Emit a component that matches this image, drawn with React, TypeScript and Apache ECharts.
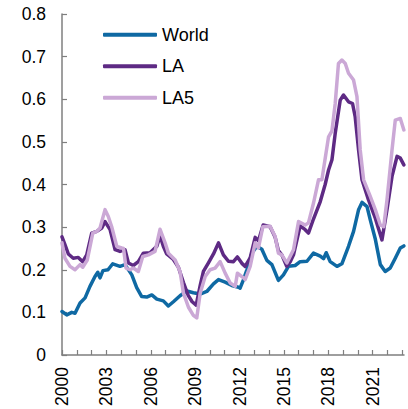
import React, { useEffect, useRef } from "react";
import * as echarts from "echarts";

const worldYears = [2000.0, 2000.32, 2000.66, 2000.88, 2001.22, 2001.56, 2001.89, 2002.23, 2002.42, 2002.57, 2002.77, 2003.11, 2003.43, 2003.92, 2004.26, 2004.72, 2005.05, 2005.39, 2005.73, 2006.07, 2006.41, 2006.85, 2007.19, 2007.53, 2007.98, 2008.44, 2008.88, 2009.34, 2009.79, 2010.24, 2010.58, 2011.03, 2011.48, 2011.93, 2012.04, 2012.25, 2012.5, 2012.84, 2013.17, 2013.51, 2013.85, 2014.19, 2014.63, 2014.97, 2015.31, 2015.76, 2016.1, 2016.56, 2017.0, 2017.46, 2017.68, 2017.86, 2018.13, 2018.59, 2018.92, 2019.37, 2019.71, 2020.05, 2020.28, 2020.62, 2020.84, 2021.18, 2021.52, 2021.85, 2022.19, 2022.53, 2022.87, 2023.11];
const worldValues = [0.102, 0.094, 0.1, 0.098, 0.122, 0.134, 0.161, 0.184, 0.194, 0.181, 0.198, 0.2, 0.214, 0.208, 0.212, 0.188, 0.158, 0.137, 0.136, 0.141, 0.131, 0.127, 0.115, 0.125, 0.139, 0.15, 0.146, 0.143, 0.149, 0.167, 0.177, 0.171, 0.163, 0.159, 0.157, 0.175, 0.2, 0.239, 0.255, 0.248, 0.222, 0.212, 0.175, 0.188, 0.208, 0.21, 0.219, 0.22, 0.239, 0.232, 0.226, 0.24, 0.219, 0.208, 0.214, 0.255, 0.29, 0.341, 0.358, 0.348, 0.317, 0.272, 0.212, 0.196, 0.204, 0.227, 0.251, 0.256];

const laYears = [2000.0, 2000.2, 2000.43, 2000.76, 2001.1, 2001.4, 2001.67, 2002.01, 2002.35, 2002.69, 2002.91, 2003.25, 2003.59, 2003.92, 2004.26, 2004.49, 2004.82, 2005.16, 2005.5, 2005.95, 2006.41, 2006.63, 2006.85, 2007.08, 2007.53, 2007.87, 2008.21, 2008.53, 2008.8, 2009.07, 2009.34, 2009.56, 2009.9, 2010.24, 2010.58, 2010.91, 2011.25, 2011.59, 2011.86, 2012.16, 2012.38, 2012.72, 2013.06, 2013.28, 2013.6, 2014.07, 2014.41, 2014.63, 2014.86, 2015.19, 2015.43, 2015.65, 2016.1, 2016.44, 2016.66, 2017.0, 2017.46, 2017.79, 2018.02, 2018.25, 2018.47, 2018.81, 2019.03, 2019.37, 2019.64, 2019.82, 2020.05, 2020.28, 2020.72, 2021.18, 2021.63, 2021.97, 2022.31, 2022.65, 2022.87, 2023.11];
const laValues = [0.277, 0.259, 0.237, 0.227, 0.229, 0.219, 0.235, 0.286, 0.29, 0.298, 0.313, 0.294, 0.247, 0.243, 0.247, 0.216, 0.21, 0.219, 0.239, 0.24, 0.255, 0.28, 0.255, 0.237, 0.224, 0.206, 0.17, 0.14, 0.125, 0.117, 0.163, 0.196, 0.216, 0.237, 0.263, 0.235, 0.22, 0.219, 0.23, 0.215, 0.208, 0.228, 0.276, 0.268, 0.305, 0.301, 0.276, 0.245, 0.235, 0.208, 0.219, 0.235, 0.303, 0.294, 0.286, 0.319, 0.36, 0.4, 0.434, 0.458, 0.52, 0.598, 0.61, 0.594, 0.59, 0.559, 0.481, 0.411, 0.364, 0.321, 0.27, 0.341, 0.419, 0.466, 0.462, 0.446];

const la5Years = [2000.0, 2000.2, 2000.54, 2000.88, 2001.22, 2001.4, 2001.71, 2002.08, 2002.35, 2002.57, 2002.91, 2003.13, 2003.36, 2003.7, 2004.04, 2004.16, 2004.33, 2004.6, 2004.82, 2005.16, 2005.46, 2005.84, 2006.29, 2006.63, 2006.97, 2007.19, 2007.65, 2007.98, 2008.21, 2008.55, 2008.88, 2009.11, 2009.34, 2009.68, 2010.01, 2010.35, 2010.69, 2011.03, 2011.37, 2011.71, 2011.86, 2012.16, 2012.38, 2012.72, 2013.06, 2013.28, 2013.58, 2014.07, 2014.41, 2014.63, 2014.86, 2015.2, 2015.65, 2015.99, 2016.44, 2016.66, 2017.0, 2017.34, 2017.57, 2017.83, 2018.02, 2018.25, 2018.47, 2018.69, 2018.92, 2019.15, 2019.37, 2019.71, 2019.94, 2020.16, 2020.39, 2020.84, 2021.18, 2021.52, 2021.75, 2021.97, 2022.31, 2022.53, 2022.87, 2023.11];
const la5Values = [0.263, 0.227, 0.208, 0.2, 0.212, 0.206, 0.223, 0.286, 0.29, 0.298, 0.341, 0.325, 0.301, 0.255, 0.251, 0.25, 0.204, 0.2, 0.204, 0.196, 0.231, 0.235, 0.243, 0.295, 0.263, 0.239, 0.223, 0.196, 0.145, 0.112, 0.093, 0.087, 0.145, 0.184, 0.2, 0.204, 0.219, 0.192, 0.169, 0.161, 0.192, 0.184, 0.177, 0.208, 0.263, 0.251, 0.301, 0.302, 0.278, 0.239, 0.235, 0.216, 0.247, 0.313, 0.305, 0.31, 0.356, 0.411, 0.411, 0.47, 0.512, 0.526, 0.59, 0.684, 0.692, 0.684, 0.661, 0.645, 0.606, 0.481, 0.411, 0.372, 0.341, 0.305, 0.301, 0.364, 0.481, 0.551, 0.555, 0.528];

const seriesNames = ["World", "LA", "LA5"];
const labeledYears = [2000, 2003, 2006, 2009, 2012, 2015, 2018, 2021];

const zip = (xs: number[], ys: number[]) => xs.map((x, i) => [x, ys[i]]);

export default function App() {
  const ref = useRef<HTMLDivElement>(null);
  useEffect(() => {
    if (!ref.current) return;
    const chart = echarts.init(ref.current, undefined, { renderer: "svg" });
    const font = "'Liberation Sans', Arial, sans-serif";
    const axisColor = "#7f7f7f";
    const colors = ["#0f69a3", "#5e2a84", "#cba8d6"];
    chart.setOption({
      animation: false,
      textStyle: { fontFamily: font },
      grid: { left: 62, right: 4, top: 14, bottom: 54, containLabel: false },
      legend: {
        data: seriesNames,
        orient: "vertical",
        left: 103,
        top: 24.7,
        padding: 0,
        itemWidth: 54,
        itemHeight: 4,
        itemGap: 11.5,
        icon: "roundRect",
        textStyle: { fontSize: 18, lineHeight: 20, color: "#000", fontFamily: font },
      },
      xAxis: {
        type: "value",
        min: 2000,
        max: 2023.12,
        interval: 1,
        splitLine: { show: false },
        axisLine: { show: true, onZero: false, lineStyle: { color: axisColor, width: 1.5 } },
        axisTick: { show: true, inside: true, length: 5, lineStyle: { color: axisColor, width: 1.2 } },
        axisLabel: {
          rotate: 90,
          margin: 12,
          fontSize: 17.5,
          color: "#000",
          fontFamily: font,
          showMaxLabel: false,
          formatter: (v: number) => (labeledYears.includes(Math.round(v * 100) / 100) ? String(v) : ""),
        },
      },
      yAxis: {
        type: "value",
        min: 0,
        max: 0.8,
        interval: 0.1,
        splitLine: { show: false },
        axisLine: { show: true, lineStyle: { color: axisColor, width: 1.5 } },
        axisTick: { show: true, inside: true, length: 5, lineStyle: { color: axisColor, width: 1.2 } },
        axisLabel: {
          margin: 16,
          fontSize: 17.5,
          color: "#000",
          fontFamily: font,
          formatter: (v: number) => String(Math.round(v * 10) / 10),
        },
      },
      series: [
        { name: seriesNames[0], data: zip(worldYears, worldValues), color: colors[0] },
        { name: seriesNames[1], data: zip(laYears, laValues), color: colors[1] },
        { name: seriesNames[2], data: zip(la5Years, la5Values), color: colors[2] },
      ].map((s) => ({
        ...s,
        type: "line",
        showSymbol: false,
        symbol: "none",
        lineStyle: { width: 3.5, color: s.color, cap: "round", join: "round" },
        itemStyle: { color: s.color },
      })),
    });
    return () => chart.dispose();
  }, []);
  return <div ref={ref} style={{ width: 408, height: 409, position: "absolute", left: 0, top: 0 }} />;
}
